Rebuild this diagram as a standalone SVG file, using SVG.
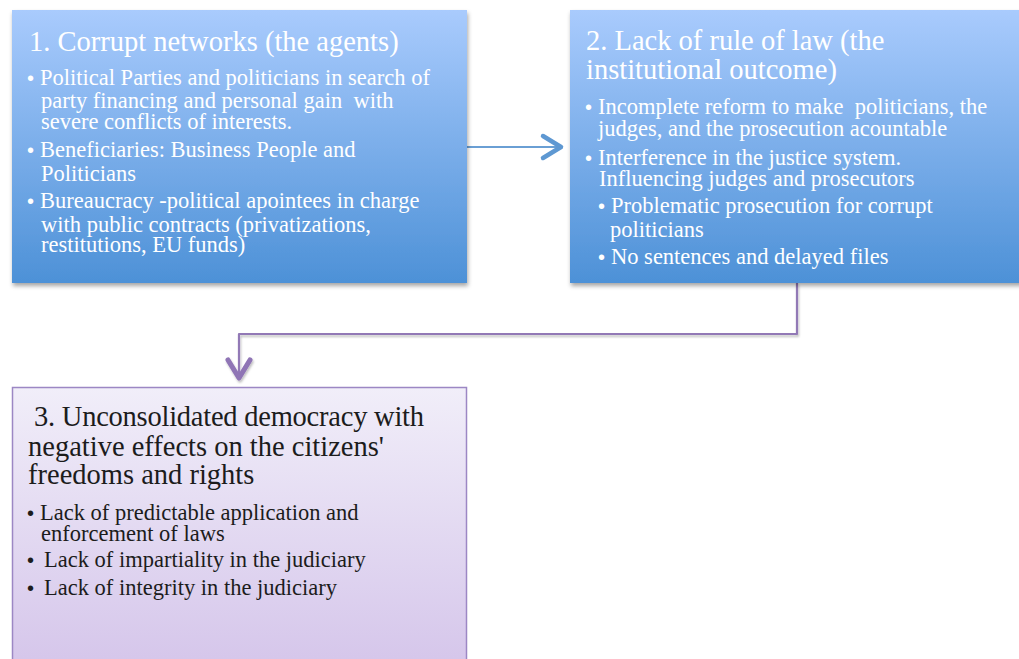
<svg xmlns="http://www.w3.org/2000/svg" width="1019" height="659" viewBox="0 0 1019 659">
  <style>
    text { white-space: pre; }
    .ttl { font-family: "Liberation Serif", "DejaVu Serif", serif; font-size: 28.5px; }
    .itm { font-family: "Liberation Serif", "DejaVu Serif", serif; font-size: 22.5px; }
    .lt { fill: #ffffff; }
    .dk { fill: #1c1c1c; }
    .bl { font-family: "Liberation Sans", sans-serif; font-size: 20px; }
  </style>
  <defs>
    <linearGradient id="blueFill" x1="0" y1="0" x2="0" y2="1">
      <stop offset="0" stop-color="#a9cbfd"/>
      <stop offset="1" stop-color="#4d91d7"/>
    </linearGradient>
    <linearGradient id="lilacFill" x1="0" y1="0" x2="0" y2="1">
      <stop offset="0" stop-color="#f1eef9"/>
      <stop offset="1" stop-color="#d4c4ea"/>
    </linearGradient>
    <filter id="shadow" x="-5%" y="-5%" width="115%" height="120%">
      <feDropShadow dx="1" dy="3" stdDeviation="2" flood-color="#000" flood-opacity="0.35"/>
    </filter>
    <filter id="softShadow" x="-5%" y="-20%" width="115%" height="150%">
      <feDropShadow dx="1" dy="2" stdDeviation="1.2" flood-color="#000" flood-opacity="0.25"/>
    </filter>
  </defs>

  <rect width="1019" height="659" fill="#ffffff"/>

  <!-- connectors -->
  <g id="connectors" fill="none" stroke-linecap="round" stroke-linejoin="round">
    <g id="link-1-2">
      <line x1="467" y1="147" x2="559" y2="147" stroke="#6a9fd4" stroke-width="2"/>
      <polyline points="543,136 561,147 543,158" stroke="#5e98d2" stroke-width="4.5"/>
    </g>
    <g id="link-2-3" filter="url(#softShadow)">
      <polyline points="797,283 797,334 239,334 239,376" stroke="#9279b6" stroke-width="2.2" stroke-linecap="butt"/>
      <polyline points="228,360 239,378 250,360" stroke="#8f74b5" stroke-width="5"/>
    </g>
  </g>

  <!-- node 1 -->
  <g id="node-1">
    <rect x="12" y="10" width="455" height="273" fill="url(#blueFill)" filter="url(#shadow)"/>
    <text class="ttl lt" x="29" y="51">1. Corrupt networks (the agents)</text>
    <text class="lt bl" x="27" y="85">•</text>
    <text class="itm lt" x="40" y="85">Political Parties and politicians in search of</text>
    <text class="itm lt" x="41" y="108">party financing and personal gain  with</text>
    <text class="itm lt" x="41" y="129">severe conflicts of interests.</text>
    <text class="lt bl" x="27" y="157">•</text>
    <text class="itm lt" x="40" y="157">Beneficiaries: Business People and</text>
    <text class="itm lt" x="41" y="181">Politicians</text>
    <text class="lt bl" x="27" y="208">•</text>
    <text class="itm lt" x="40" y="208">Bureaucracy -political apointees in charge</text>
    <text class="itm lt" x="41" y="232">with public contracts (privatizations,</text>
    <text class="itm lt" x="41" y="252">restitutions, EU funds)</text>
  </g>

  <!-- node 2 -->
  <g id="node-2">
    <rect x="570" y="10" width="455" height="273" fill="url(#blueFill)" filter="url(#shadow)"/>
    <text class="ttl lt" x="586" y="50">2. Lack of rule of law (the</text>
    <text class="ttl lt" x="586" y="79">institutional outcome)</text>
    <text class="lt bl" x="585" y="114">•</text>
    <text class="itm lt" x="598" y="114">Incomplete reform to make  politicians, the</text>
    <text class="itm lt" x="598" y="136">judges, and the prosecution acountable</text>
    <text class="lt bl" x="585" y="165">•</text>
    <text class="itm lt" x="598" y="165">Interference in the justice system.</text>
    <text class="itm lt" x="599" y="186">Influencing judges and prosecutors</text>
    <text class="lt bl" x="598" y="213">•</text>
    <text class="itm lt" x="611" y="213">Problematic prosecution for corrupt</text>
    <text class="itm lt" x="610" y="237">politicians</text>
    <text class="lt bl" x="598" y="264">•</text>
    <text class="itm lt" x="611" y="264">No sentences and delayed files</text>
  </g>

  <!-- node 3 -->
  <g id="node-3">
    <rect x="12.5" y="387.5" width="454" height="290" fill="url(#lilacFill)" stroke="#9c87c4" stroke-width="1.5"/>
    <text class="ttl dk" x="34" y="426" textLength="390">3. Unconsolidated democracy with</text>
    <text class="ttl dk" x="28" y="456">negative effects on the citizens'</text>
    <text class="ttl dk" x="28" y="484">freedoms and rights</text>
    <text class="dk bl" x="27" y="520">•</text>
    <text class="itm dk" x="40" y="520">Lack of predictable application and</text>
    <text class="itm dk" x="41" y="541">enforcement of laws</text>
    <text class="dk bl" x="27" y="567">•</text>
    <text class="itm dk" x="44" y="567">Lack of impartiality in the judiciary</text>
    <text class="dk bl" x="27" y="595">•</text>
    <text class="itm dk" x="44" y="595">Lack of integrity in the judiciary</text>
  </g>
</svg>
